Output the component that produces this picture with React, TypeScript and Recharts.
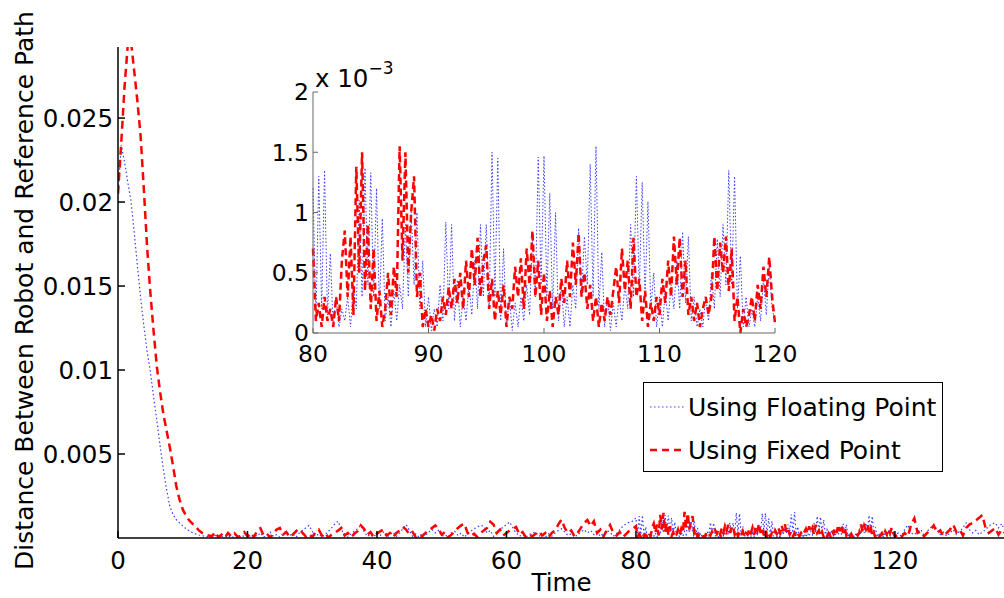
import { LineChart, Line, XAxis, YAxis, Legend } from "recharts";

const FONT = "'DejaVu Sans', sans-serif";
const BLUE = "#3c3cff";
const RED = "#ff0000";

// sample grid of the simulation (time units)
const grid = (from: number, to: number, dt: number) => {
  const out: number[] = [];
  for (let i = 0; from + i * dt <= to + 1e-9; i++) out.push(+(from + i * dt).toFixed(2));
  return out;
};
const decayTimes = grid(0, 14, 0.5);
const earlyTimes = grid(14.5, 79.5, 0.5);
const windowTimes = grid(80, 120, 0.25);
const tailTimes = grid(120.5, 137, 0.5);

// distances in units of 1e-3
const floatingDecay = [20.5, 23.4, 22.4, 21.2, 20.1, 18.2, 16.2, 14.3, 12.6, 11.1,
  9.9, 8.4, 7.0, 5.5, 4.1, 2.9, 1.9, 1.4, 1.1, 0.9,
  0.72, 0.55, 0.42, 0.32, 0.24, 0.18, 0.14, 0.1, 0.08];
const fixedDecay = [20.5, 23.5, 26.8, 29.3, 29.6, 27.8, 26.0, 23.9, 20.7, 17.3,
  14.6, 12.3, 10.2, 8.7, 7.4, 6.4, 5.4, 4.3, 3.1, 2.3,
  1.7, 1.33, 1.05, 0.85, 0.65, 0.45, 0.3, 0.2, 0.15];

const floatingEarly = [0.08, 0.15, 0.02, 0.1, 0.05, 0.15, 0.02, 0.1, 0.2, 0.05,
  0.15, 0.25, 0.05, 0.2, 0.1, 0.3, 0.05, 0.2, 0.35, 0.1,
  0.2, 0.05, 0.3, 0.4, 0.15, 0.25, 0.05, 0.3, 0.45, 0.6,
  0.75, 0.4, 0.1, 0.25, 0.05, 0.2, 0.4, 0.6, 0.85, 1.0,
  0.5, 0.2, 0.05, 0.25, 0.4, 0.55, 0.75, 0.4, 0.1, 0.2,
  0.05, 0.3, 0.15, 0.35, 0.05, 0.2, 0.35, 0.1, 0.3, 0.55,
  0.8, 0.45, 0.1, 0.25, 0.05, 0.3, 0.15, 0.35, 0.5, 0.3,
  0.45, 0.1, 0.2, 0.05, 0.3, 0.4, 0.15, 0.3, 0.05, 0.25,
  0.4, 0.55, 0.65, 0.75, 0.7, 0.3, 0.45, 0.1, 0.35, 0.5,
  0.65, 0.8, 0.95, 0.6, 0.3, 0.1, 0.2, 0.05, 0.2, 0.3,
  0.35, 0.1, 0.2, 0.05, 0.25, 0.1, 0.3, 0.45, 0.55, 0.35,
  0.15, 0.25, 0.05, 0.2, 0.35, 0.5, 0.3, 0.45, 0.2, 0.35,
  0.1, 0.3, 0.45, 0.35, 0.1, 0.25, 0.5, 0.7, 0.85, 0.95,
  1.0];
const fixedEarly = [0.1, 0.35, 0.05, 0.2, 0.02, 0.3, 0.1, 0.28, 0.05, 0.15,
  0.35, 0.1, 0.3, 0.05, 0.45, 0.58, 0.15, 0.25, 0.02, 0.3,
  0.5, 0.6, 0.2, 0.35, 0.05, 0.2, 0.4, 0.55, 0.3, 0.1,
  0.25, 0.05, 0.35, 0.5, 0.15, 0.3, 0.02, 0.2, 0.3, 0.45,
  0.6, 0.15, 0.3, 0.05, 0.25, 0.4, 0.75, 0.55, 0.2, 0.35,
  0.05, 0.25, 0.4, 0.5, 0.15, 0.3, 0.05, 0.3, 0.45, 0.65,
  0.5, 0.2, 0.35, 0.05, 0.2, 0.1, 0.3, 0.45, 0.6, 0.75,
  0.55, 0.2, 0.35, 0.05, 0.2, 0.4, 0.6, 0.75, 0.85, 0.3,
  0.1, 0.25, 0.05, 0.3, 0.45, 0.6, 0.97, 0.8, 0.3, 0.5,
  0.15, 0.3, 0.45, 0.55, 0.65, 0.2, 0.35, 0.05, 0.2, 0.1,
  0.25, 0.4, 0.15, 0.3, 0.05, 0.3, 0.45, 0.8, 1.1, 0.6,
  0.3, 0.45, 0.1, 0.3, 0.6, 0.9, 1.07, 0.7, 1.0, 0.3,
  0.5, 0.1, 0.45, 0.77, 0.3, 0.15, 0.35, 0.05, 0.25, 0.45,
  0.55];

// 80..120, the zoomed window
const floatingWindow = [1.2, 0.1, 1.3, 0.2, 1.35, 0.15, 0.66, 0.05,
  0.3, 0.05, 0.2, 0.1, 0.3, 0.05, 0.4, 0.2,
  1.1, 0.3, 1.37, 0.4, 1.33, 0.3, 1.2, 0.2,
  0.95, 0.1, 0.3, 0.05, 0.35, 0.1, 0.4, 0.2,
  0.9, 0.3, 1.02, 0.4, 1.0, 0.2, 0.6, 0.05,
  0.3, 0.02, 0.2, 0.05, 0.4, 0.1, 0.92, 0.2,
  0.9, 0.1, 0.44, 0.05, 0.3, 0.1, 0.4, 0.15,
  0.6, 0.2, 0.9, 0.3, 0.9, 0.2, 1.5, 0.3,
  1.45, 0.1, 0.7, 0.05, 0.3, 0.02, 0.25, 0.05,
  0.3, 0.1, 0.4, 0.15, 0.8, 0.3, 1.46, 0.4,
  1.47, 0.3, 1.16, 0.2, 1.0, 0.1, 0.4, 0.05,
  0.3, 0.05, 0.4, 0.2, 0.87, 0.3, 0.8, 0.4,
  1.4, 0.3, 1.55, 0.2, 0.67, 0.05, 0.3, 0.02,
  0.25, 0.05, 0.3, 0.1, 0.4, 0.2, 0.9, 0.3,
  1.3, 0.35, 1.25, 0.3, 1.09, 0.2, 0.5, 0.05,
  0.3, 0.05, 0.35, 0.1, 0.4, 0.2, 0.6, 0.2,
  0.84, 0.25, 0.8, 0.1, 0.3, 0.05, 0.2, 0.05,
  0.3, 0.1, 0.5, 0.2, 0.78, 0.3, 0.9, 0.4,
  1.35, 0.4, 1.3, 0.2, 0.64, 0.05, 0.3, 0.05,
  0.2, 0.05, 0.3, 0.1, 0.45, 0.15, 0.55, 0.2,
  0.1];
const fixedWindow = [0.7, 0.1, 0.25, 0.05, 0.3, 0.1, 0.2, 0.05,
  0.3, 0.1, 0.6, 0.85, 0.3, 0.8, 0.15, 1.38,
  0.5, 1.5, 0.35, 0.9, 0.2, 0.7, 0.1, 0.35,
  0.05, 0.2, 0.5, 0.15, 0.55, 0.3, 1.55, 0.6,
  1.5, 0.5, 1.0, 1.3, 0.3, 0.5, 0.05, 0.2,
  0.05, 0.15, 0.02, 0.2, 0.1, 0.3, 0.15, 0.38,
  0.2, 0.45, 0.25, 0.5, 0.2, 0.6, 0.3, 0.7,
  0.4, 0.79, 0.3, 0.6, 0.73, 0.2, 0.45, 0.1,
  0.35, 0.15, 0.4, 0.05, 0.3, 0.2, 0.55, 0.3,
  0.62, 0.2, 0.7, 0.4, 0.85, 0.3, 0.6, 0.15,
  0.5, 0.1, 0.35, 0.05, 0.3, 0.15, 0.45, 0.25,
  0.6, 0.3, 0.75, 0.4, 0.83, 0.3, 0.5, 0.2,
  0.4, 0.1, 0.3, 0.05, 0.25, 0.1, 0.3, 0.15,
  0.35, 0.55, 0.25, 0.7, 0.35, 0.6, 0.2, 0.79,
  0.3, 0.45, 0.1, 0.35, 0.05, 0.25, 0.1, 0.3,
  0.15, 0.45, 0.25, 0.6, 0.3, 0.8, 0.4, 0.79,
  0.3, 0.6, 0.15, 0.3, 0.1, 0.25, 0.05, 0.2,
  0.3, 0.15, 0.3, 0.8, 0.35, 0.75, 0.5, 0.8,
  0.35, 0.7, 0.1, 0.3, 0.0, 0.2, 0.05, 0.15,
  0.3, 0.1, 0.4, 0.2, 0.55, 0.3, 0.63, 0.3,
  0.08];

const floatingTail = [0.3, 0.1, 0.5, 0.77, 0.3, 0.2, 0.4, 0.5, 0.15, 0.4,
  0.6, 0.8, 0.5, 0.2, 0.35, 0.1, 0.3, 0.5, 0.2, 0.4,
  0.6, 0.9, 0.5, 0.3, 0.45, 0.2, 0.35, 0.5, 0.7, 0.85,
  0.9, 0.6, 0.85, 0.4];
const fixedTail = [0.2, 0.05, 0.3, 0.1, 0.8, 1.17, 0.3, 0.4, 0.1, 0.3,
  0.5, 0.75, 0.3, 0.45, 0.1, 0.3, 0.5, 0.8, 0.35, 0.5,
  0.15, 0.6, 0.8, 0.9, 1.05, 1.2, 1.37, 0.6, 0.3, 0.45,
  0.6, 0.2, 0.5, 0.3];

const mainXTicks = [0, 20, 40, 60, 80, 100, 120];
const mainYTicks = [0.005, 0.01, 0.015, 0.02, 0.025];
const insetXTicks = [80, 90, 100, 110, 120];
const insetYTicks = [0, 0.5, 1, 1.5, 2];

const series = [
  { key: "floating", name: "Using Floating Point", color: BLUE, width: 1.2, dash: "1.5 2.5" },
  { key: "fixed", name: "Using Fixed Point", color: RED, width: 2.5, dash: "8 5" },
];

const times = [...decayTimes, ...earlyTimes, ...windowTimes, ...tailTimes];
const floatingMilli = [...floatingDecay, ...floatingEarly, ...floatingWindow, ...floatingTail];
const fixedMilli = [...fixedDecay, ...fixedEarly, ...fixedWindow, ...fixedTail];

const rows = times.map((t, i) => ({ t, floating: floatingMilli[i] / 1000, fixed: fixedMilli[i] / 1000 }));
const insetRows = times
  .map((t, i) => ({ t, floating: floatingMilli[i], fixed: fixedMilli[i] }))
  .filter((r) => r.t >= 80 && r.t <= 120);

const tickStyle = { fill: "#000", fontSize: 24.5, fontFamily: FONT };
const insetTickStyle = { fill: "#000", fontSize: 23.5, fontFamily: FONT };

const yTitle = (p: any) => {
  const vb = p.viewBox ?? { x: 38, y: 47, height: 491 };
  const cx = 33;
  const cy = vb.y + vb.height / 2 - 2;
  return (
    <text x={cx} y={cy} transform={`rotate(-90, ${cx}, ${cy})`} textAnchor="middle"
      fontSize={25} fontFamily={FONT} fill="#000">
      Distance Between Robot and Reference Path
    </text>
  );
};

const xTitle = (p: any) => {
  const vb = p.viewBox ?? { x: 118, width: 887 };
  return (
    <text x={vb.x + vb.width / 2} y={591} textAnchor="middle" fontSize={24.5} fontFamily={FONT} fill="#000">
      Time
    </text>
  );
};

const scaleNote = (p: any) => {
  const vb = p.viewBox ?? { x: 0, y: 47, width: 63 };
  return (
    <text x={vb.x + vb.width + 2} y={vb.y - 5} fontSize={24.5} fontFamily={FONT} fill="#000">
      x 10<tspan dy={-13} fontSize={17}>−3</tspan>
    </text>
  );
};

const renderLegend = () => (
  <div style={{
    width: 300, height: 90, boxSizing: "border-box", border: "1px solid #000",
    background: "#fff", fontFamily: FONT, fontSize: 25, color: "#000", position: "relative",
  }}>
    {series.map((s, i) => (
      <div key={s.key} style={{ position: "absolute", left: 5, top: 8 + i * 43, height: 32, display: "flex", alignItems: "center", whiteSpace: "nowrap" }}>
        <svg width={36} height={10} style={{ marginRight: 3 }}>
          <line x1={1} y1={5} x2={35} y2={5} stroke={s.color} strokeWidth={s.width}
            strokeDasharray={s.key === "fixed" ? "7 5" : s.dash} />
        </svg>
        <span>{s.name}</span>
      </div>
    ))}
  </div>
);

export default function App() {
  return (
    <div style={{ position: "fixed", left: 0, top: 0, width: 1004, height: 598, overflow: "hidden", background: "#fff" }}>
      <LineChart width={1100} height={598} data={rows} margin={{ top: 47, right: 95, bottom: 0, left: 38 }}>
        <XAxis dataKey="t" type="number" domain={[0, 137]} ticks={mainXTicks} allowDataOverflow
          height={60} stroke="#000" strokeWidth={1.5} tickSize={-7} tickMargin={21} tick={tickStyle}
          label={xTitle} />
        <XAxis xAxisId="top" dataKey="t" type="number" domain={[0, 137]} ticks={mainXTicks} orientation="top"
          height={0} stroke="#000" strokeWidth={1.5} tickSize={-7} tick={false} />
        <YAxis type="number" domain={[0, 0.02923]} ticks={mainYTicks} allowDataOverflow width={80}
          stroke="#000" strokeWidth={1.5} tickSize={-7} tickMargin={12} tick={tickStyle}
          tickFormatter={(v: number) => String(v)} label={yTitle} />
        <YAxis yAxisId="right" orientation="right" type="number" domain={[0, 0.02923]} ticks={mainYTicks}
          width={0} stroke="#000" strokeWidth={1.5} tickSize={-7} tick={false} />
        {series.map((s) => (
          <Line key={s.key} dataKey={s.key} name={s.name} type="linear" stroke={s.color}
            strokeWidth={s.width} strokeDasharray={s.dash} dot={false} activeDot={false}
            isAnimationActive={false} />
        ))}
        <Legend content={renderLegend} layout="horizontal" verticalAlign="middle" align="center"
          wrapperStyle={{ left: 643, top: 382, width: 300, height: 90 }} />
      </LineChart>

      <div style={{ position: "absolute", left: 250, top: 45 }}>
        <LineChart width={565} height={323} data={insetRows} margin={{ top: 47, right: 40, bottom: 0, left: 0 }}>
          <XAxis dataKey="t" type="number" domain={[80, 120]} ticks={insetXTicks} height={35}
            stroke="#666" tickSize={-5} tickMargin={17} tick={insetTickStyle} />
          <YAxis type="number" domain={[0, 2]} ticks={insetYTicks} width={63}
            stroke="#666" tickSize={-5} tickMargin={9} tick={insetTickStyle}
            tickFormatter={(v: number) => String(v)} label={scaleNote} />
          {series.map((s) => (
            <Line key={s.key} dataKey={s.key} name={s.name} type="linear" stroke={s.color}
              strokeWidth={s.key === "fixed" ? 2.5 : 1} strokeDasharray={s.key === "fixed" ? "7 4" : "1.5 2"}
              dot={false} activeDot={false} isAnimationActive={false} />
          ))}
        </LineChart>
      </div>
    </div>
  );
}
